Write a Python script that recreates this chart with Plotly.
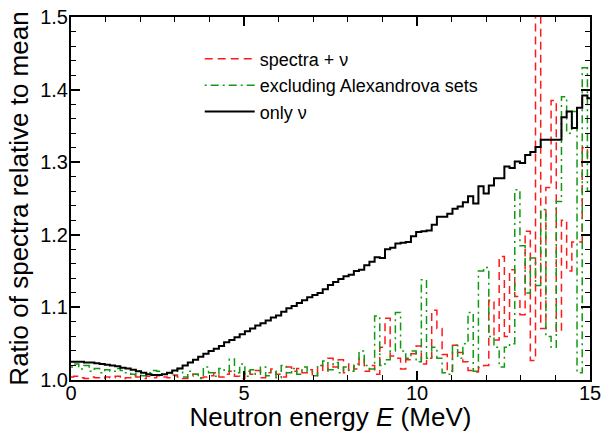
import plotly.graph_objects as go

# energy grid (MeV), histogram bin centres
energy = [round(i * 0.15, 2) for i in range(101)]

only_nu = [
    1.025, 1.025, 1.025, 1.024, 1.024, 1.023, 1.022, 1.021, 1.020, 1.019,
    1.017, 1.016, 1.014, 1.012, 1.010, 1.008, 1.007, 1.007, 1.008, 1.010,
    1.013, 1.016, 1.020, 1.024, 1.028, 1.032, 1.036, 1.040,
    1.043, 1.047, 1.052, 1.055, 1.059, 1.063, 1.067, 1.071, 1.075, 1.078,
    1.082, 1.086, 1.089, 1.094, 1.099, 1.102, 1.106, 1.110, 1.114, 1.117,
    1.120, 1.125, 1.131, 1.135, 1.139, 1.143, 1.145, 1.150, 1.152, 1.158,
    1.163, 1.169, 1.168, 1.180, 1.182, 1.188, 1.189, 1.190, 1.198,
    1.204, 1.205, 1.206, 1.214, 1.225, 1.225, 1.229, 1.236, 1.239, 1.245,
    1.253, 1.243, 1.267, 1.257, 1.268, 1.278, 1.278, 1.294, 1.292, 1.301,
    1.299, 1.310, 1.314, 1.321, 1.331, 1.331, 1.331, 1.331, 1.362, 1.370,
    1.347, 1.375, 1.392, 1.388,
]

spectra_nu = [
    1.004, 1.005, 1.003, 1.002, 1.004, 1.003, 1.002, 1.004, 1.003, 1.005,
    1.002, 1.003, 1.006, 1.004, 1.002, 1.005, 1.003, 1.006, 1.004, 1.003,
    1.007, 1.004, 1.002, 1.005, 1.008, 1.003, 1.004, 1.006,
    1.010, 1.004, 1.008, 1.012, 1.005, 1.002, 1.012,
    1.008, 1.013, 1.003, 1.010, 1.015, 1.008, 1.004, 1.018, 1.012, 1.016,
    1.010, 1.014, 1.006,
    1.020, 1.012, 1.030, 1.018, 1.028, 1.010, 1.022, 1.015, 1.030, 1.012,
    1.020, 1.008,
    1.045, 1.085, 1.033, 1.030, 1.015, 1.028, 1.036, 1.047, 1.022, 1.030,
    1.096, 1.071, 1.035, 1.012, 1.048, 1.038, 1.025, 1.013, 1.011, 1.017,
    1.020, 1.110, 1.055, 1.170, 1.060, 1.152, 1.115, 1.090, 1.205, 1.027,
    1.550, 1.071, 1.265, 1.385, 1.067, 1.220, 1.150, 1.190, 1.190, 1.320,
    1.300,
]

excl_alexandrova = [
    1.018, 1.022, 1.015, 1.020, 1.012, 1.016, 1.010, 1.014, 1.012, 1.016,
    1.013, 1.010, 1.008, 1.012, 1.006, 1.010, 1.013, 1.012, 1.008, 1.010,
    1.006, 1.016, 1.004, 1.012, 1.008, 1.002, 1.018, 1.010,
    1.005, 1.016, 1.012, 1.029, 1.010, 1.022, 1.005, 1.014, 1.008, 1.018,
    1.006, 1.012, 1.003, 1.020, 1.010, 1.016, 1.008, 1.018, 1.012, 1.006,
    1.020, 1.026, 1.014, 1.024, 1.010, 1.018, 1.012, 1.022, 1.040, 1.020,
    1.015,
    1.088, 1.020, 1.028, 1.040, 1.093, 1.040, 1.030, 1.040, 1.025, 1.138,
    1.030, 1.045, 1.030, 1.010, 1.008, 1.048, 1.030, 1.050, 1.093, 1.012,
    1.150, 1.155, 1.060, 1.045, 1.018, 1.045, 1.050, 1.262, 1.185, 1.120,
    1.168, 1.130, 1.235, 1.060, 1.045, 1.246, 1.390, 1.340, 1.370, 1.010,
    1.430, 1.260,
]

x_ticks = [0, 5, 10, 15]
y_ticks = [1.0, 1.1, 1.2, 1.3, 1.4, 1.5]

FONT = "Liberation Sans, Arial, sans-serif"

fig = go.Figure()
fig.add_trace(go.Scatter(
    x=energy, y=spectra_nu, mode="lines", name="spectra + ν", legendgroup="a",
    line=dict(color="#ff1a1a", width=1.5, dash="8px,5px", shape="hvh"),
))
fig.add_trace(go.Scatter(
    x=energy, y=excl_alexandrova, mode="lines", name="excluding Alexandrova sets",
    legendgroup="b",
    line=dict(color="#119911", width=1.5, dash="2px,4px,8px,4px", shape="hvh"),
))
fig.add_trace(go.Scatter(
    x=energy, y=only_nu, mode="lines", name="only ν", legendgroup="c",
    line=dict(color="black", width=2, shape="hvh"),
))

axis_common = dict(
    showline=True, linecolor="black", linewidth=2, mirror="allticks",
    ticks="inside", ticklen=9, tickwidth=1.5, tickcolor="black",
    showgrid=False, zeroline=False,
    tickfont=dict(family=FONT, size=20, color="black"),
)

fig.update_xaxes(
    range=[0, 15], tickvals=x_ticks, ticktext=[str(v) for v in x_ticks],
    ticklabelstandoff=-6,
    minor=dict(ticks="inside", ticklen=5, tickwidth=1.2, tickcolor="black", dtick=1, showgrid=False),
    title=dict(text="Neutron energy <i>E</i> (MeV)", font=dict(family=FONT, size=26, color="black"), standoff=2),
    **axis_common,
)
fig.update_yaxes(
    range=[1.0, 1.5], tickvals=y_ticks, ticktext=[f"{v:.1f}" for v in y_ticks],
    ticklabelstandoff=-3,
    minor=dict(ticks="inside", ticklen=5, tickwidth=1.2, tickcolor="black", dtick=0.02, showgrid=False),
    title=dict(text="Ratio of spectra relative to mean", font=dict(family=FONT, size=26, color="black"), standoff=4),
    **axis_common,
)

fig.update_layout(
    width=603, height=432,
    margin=dict(l=71, r=13, t=17, b=52, autoexpand=False),
    paper_bgcolor="white", plot_bgcolor="white",
    showlegend=True,
    legend=dict(
        x=0.248, y=0.935, xanchor="left", yanchor="top",
        bgcolor="rgba(0,0,0,0)", borderwidth=0,
        font=dict(family=FONT, size=18, color="black"),
        itemwidth=50, tracegroupgap=7, traceorder="normal",
    ),
)

fig.write_html("out.html")
